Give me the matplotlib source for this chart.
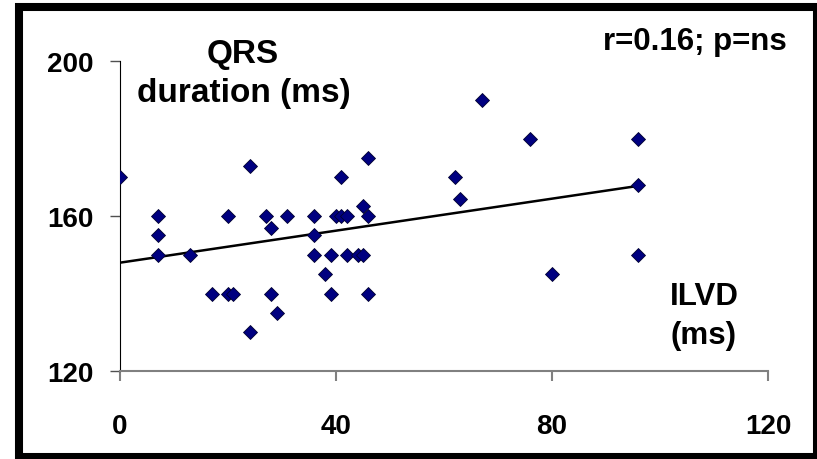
import numpy as np
import matplotlib
matplotlib.use("Agg")
from matplotlib import pyplot as plt
from matplotlib.patches import Rectangle

# ILVD (ms) vs QRS duration (ms)
ilvd = [0, 7, 7, 7, 13, 17, 20, 20, 21, 24, 24, 27, 28, 28, 29, 31,
        36, 36, 36, 38, 39, 39, 40, 41, 41, 42, 42, 44, 45, 45, 46, 46, 46,
        62, 63, 67, 76, 80, 96, 96, 96]
qrs = [170, 160, 155, 150, 150, 140, 160, 140, 140, 173, 130, 160, 157, 140, 135, 160,
       160, 155, 150, 145, 150, 140, 160, 170, 160, 160, 150, 150, 150, 162.5, 160, 175, 140,
       170, 164.5, 190, 180, 145, 180, 168, 150]
x_ticks = [0, 40, 80, 120]
y_ticks = [120, 160, 200]

plt.rcParams['font.family'] = ['Liberation Sans', 'DejaVu Sans']
plt.rcParams['font.weight'] = 'bold'

W, H = 817, 460
fig = plt.figure(figsize=(W / 100, H / 100), dpi=100)
fig.set_facecolor("white")

# axes box in pixels: x 120..768, y 62..372
ax = fig.add_axes([120 / W, 1 - 372 / H, (768 - 120) / W, (372 - 62) / H])

ax.plot(ilvd, qrs, linestyle="none", marker="D", markersize=7.6,
        markerfacecolor="#000080", markeredgecolor="#000030", markeredgewidth=0.6,
        zorder=3)

# linear trend line
k, b = np.polyfit(ilvd, qrs, 1)
xs = np.array([min(ilvd), max(ilvd)])
ax.plot(xs, k * xs + b, color="black", linewidth=1.8, zorder=2)

ax.set_xlim(0, 120)
ax.set_ylim(120, 200)
ax.set_xticks(x_ticks)
ax.set_yticks(y_ticks)

for s in ["top", "right"]:
    ax.spines[s].set_visible(False)
ax.spines["left"].set_color("black")
ax.spines["left"].set_linewidth(0.8)
ax.spines["bottom"].set_color("#808080")
ax.spines["bottom"].set_linewidth(1.5)

ax.tick_params(axis="x", direction="out", length=7, width=1.5, color="#808080",
               pad=23, labelsize=20)
ax.tick_params(axis="y", direction="out", length=7, width=1.0, color="#505050",
               pad=12, labelsize=20)

# labels inside the plot area
fs = 22.5
fig.text(243 / W, 1 - 63 / H, "QRS", ha="center", va="baseline", fontsize=24)
fig.text(244 / W, 1 - 102 / H, "duration (ms)", ha="center", va="baseline", fontsize=24)
fig.text(787 / W, 1 - 50 / H, "r=0.16; p=ns", ha="right", va="baseline", fontsize=fs)
fig.text(704 / W, 1 - 305 / H, "ILVD", ha="center", va="baseline", fontsize=fs)
fig.text(703 / W, 1 - 344 / H, "(ms)", ha="center", va="baseline", fontsize=fs)

# thick black frame round the picture
fig.patches.append(Rectangle((19 / W, 1 - 458 / H), (817 - 19) / W, (458 - 8) / H,
                             transform=fig.transFigure, fill=False,
                             edgecolor="black", linewidth=5.8))

fig.savefig("out.png", dpi=100)
